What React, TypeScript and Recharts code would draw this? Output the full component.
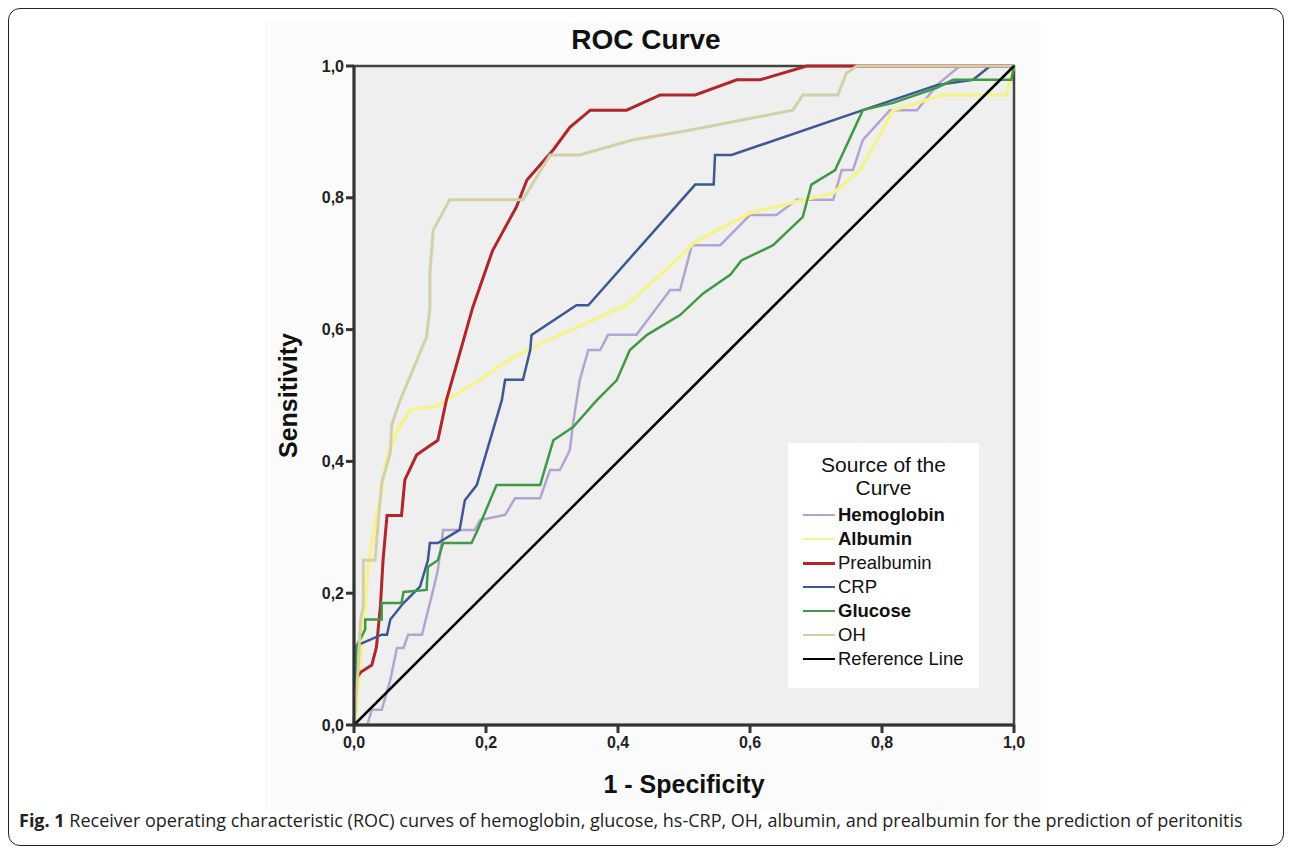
import React from "react";
import {
	LineChart,
	Line,
	XAxis,
	YAxis,
	CartesianGrid,
	ReferenceArea,
	Label,
} from "recharts";

// ROC points (1 - specificity / sensitivity)
const hemoglobinFpr = [0, 0.02, 0.027, 0.042, 0.055, 0.065, 0.075, 0.082, 0.103, 0.12, 0.127, 0.135, 0.183, 0.191, 0.229, 0.244, 0.282, 0.297, 0.312, 0.327, 0.332, 0.342, 0.355, 0.373, 0.385, 0.428, 0.479, 0.494, 0.512, 0.555, 0.6, 0.64, 0.671, 0.726, 0.739, 0.756, 0.771, 0.812, 0.853, 0.883, 0.918, 1];
const hemoglobinTpr = [0, 0, 0.023, 0.023, 0.068, 0.117, 0.117, 0.137, 0.137, 0.205, 0.235, 0.296, 0.296, 0.311, 0.319, 0.344, 0.344, 0.387, 0.387, 0.417, 0.458, 0.523, 0.569, 0.569, 0.592, 0.592, 0.66, 0.66, 0.728, 0.728, 0.774, 0.774, 0.797, 0.797, 0.842, 0.842, 0.888, 0.933, 0.933, 0.971, 1, 1];

const albuminFpr = [0, 0.004, 0.01, 0.016, 0.021, 0.029, 0.042, 0.05, 0.065, 0.085, 0.097, 0.125, 0.14, 0.19, 0.226, 0.272, 0.413, 0.494, 0.514, 0.6, 0.665, 0.726, 0.767, 0.817, 0.892, 0.989, 0.994, 1];
const albuminTpr = [0, 0.03, 0.1, 0.17, 0.235, 0.29, 0.357, 0.407, 0.445, 0.478, 0.481, 0.483, 0.493, 0.523, 0.549, 0.574, 0.637, 0.71, 0.731, 0.777, 0.793, 0.807, 0.842, 0.933, 0.956, 0.956, 0.979, 1];

const prealbuminFpr = [0, 0.003, 0.01, 0.027, 0.034, 0.04, 0.044, 0.05, 0.072, 0.077, 0.095, 0.127, 0.14, 0.156, 0.18, 0.21, 0.246, 0.262, 0.302, 0.327, 0.358, 0.413, 0.464, 0.517, 0.58, 0.615, 0.686, 1];
const prealbuminTpr = [0, 0.07, 0.08, 0.091, 0.118, 0.18, 0.25, 0.318, 0.318, 0.372, 0.41, 0.432, 0.493, 0.549, 0.634, 0.72, 0.786, 0.827, 0.873, 0.907, 0.933, 0.933, 0.956, 0.956, 0.979, 0.979, 1, 1];

const crpFpr = [0, 0.003, 0.042, 0.05, 0.055, 0.075, 0.1, 0.112, 0.115, 0.127, 0.16, 0.168, 0.186, 0.224, 0.229, 0.256, 0.267, 0.269, 0.337, 0.355, 0.517, 0.545, 0.547, 0.572, 0.771, 0.883, 0.938, 0.964, 1];
const crpTpr = [0, 0.12, 0.137, 0.137, 0.16, 0.185, 0.21, 0.25, 0.276, 0.276, 0.296, 0.341, 0.364, 0.493, 0.524, 0.524, 0.569, 0.592, 0.637, 0.637, 0.82, 0.82, 0.865, 0.865, 0.933, 0.971, 0.979, 1, 1];

const glucoseFpr = [0, 0.004, 0.017, 0.017, 0.042, 0.042, 0.072, 0.075, 0.11, 0.112, 0.127, 0.135, 0.178, 0.186, 0.216, 0.282, 0.302, 0.332, 0.368, 0.398, 0.418, 0.444, 0.494, 0.529, 0.57, 0.587, 0.635, 0.68, 0.693, 0.729, 0.771, 0.817, 0.883, 0.908, 0.996, 1];
const glucoseTpr = [0, 0.12, 0.145, 0.16, 0.16, 0.185, 0.185, 0.202, 0.205, 0.24, 0.25, 0.276, 0.276, 0.293, 0.364, 0.364, 0.432, 0.452, 0.493, 0.523, 0.569, 0.592, 0.622, 0.655, 0.683, 0.705, 0.728, 0.771, 0.82, 0.842, 0.933, 0.944, 0.967, 0.979, 0.979, 1];

const ohFpr = [0, 0.006, 0.01, 0.014, 0.014, 0.032, 0.036, 0.042, 0.055, 0.057, 0.07, 0.11, 0.115, 0.115, 0.12, 0.145, 0.256, 0.297, 0.342, 0.423, 0.494, 0.665, 0.68, 0.733, 0.746, 0.762, 1];
const ohTpr = [0, 0.08, 0.16, 0.18, 0.25, 0.25, 0.3, 0.367, 0.413, 0.455, 0.493, 0.589, 0.634, 0.686, 0.751, 0.797, 0.797, 0.865, 0.865, 0.888, 0.9, 0.933, 0.956, 0.956, 0.989, 1, 1];

const referenceFpr = [0, 1];
const referenceTpr = [0, 1];

const ticks = [0, 0.2, 0.4, 0.6, 0.8, 1];

const toPoints = (xs: number[], ys: number[]) =>
	xs.map((x, i) => ({ x, y: ys[i] }));

const series = [
	{ name: "Hemoglobin", color: "#b4a3d0", width: 2.5, data: toPoints(hemoglobinFpr, hemoglobinTpr), bold: true },
	{ name: "Albumin", color: "#f6f290", width: 3.5, data: toPoints(albuminFpr, albuminTpr), bold: true },
	{ name: "Prealbumin", color: "#b0262a", width: 3, data: toPoints(prealbuminFpr, prealbuminTpr), bold: false },
	{ name: "CRP", color: "#3d5894", width: 2.5, data: toPoints(crpFpr, crpTpr), bold: false },
	{ name: "Glucose", color: "#3f9a46", width: 2.5, data: toPoints(glucoseFpr, glucoseTpr), bold: true },
	{ name: "OH", color: "#d3d0a8", width: 3, data: toPoints(ohFpr, ohTpr), bold: false },
	{ name: "Reference Line", color: "#000000", width: 2.5, data: toPoints(referenceFpr, referenceTpr), bold: false },
];

const font = "'Liberation Sans', Arial, sans-serif";
const fmt = (v: number) => v.toFixed(1).replace(".", ",");

const App: React.FC = () => {
	return (
		<div
			style={{
				position: "relative",
				width: 1274,
				height: 836,
				border: "1px solid #222",
				borderRadius: 12,
				background: "#fff",
				fontFamily: font,
			}}
		>
			<div
				style={{
					position: "absolute",
					left: 256,
					top: 14,
					width: 776,
					height: 788,
					background: "#fbfbfb",
				}}
			/>
			<div
				style={{
					position: "absolute",
					left: 0,
					top: 17,
					width: 1274,
					textAlign: "center",
					fontSize: 28,
					lineHeight: "28px",
					fontWeight: "bold",
					color: "#111",
				}}
			>
				ROC Curve
			</div>
			<div style={{ position: "absolute", left: 0, top: 0 }}>
				<LineChart
					width={1100}
					height={790}
					margin={{ top: 57, right: 95, bottom: 44, left: 285 }}
				>
					<CartesianGrid
						horizontal={false}
						vertical={false}
						fill="#efefef"
					/>
					<ReferenceArea
						x1={0}
						x2={1}
						y1={0}
						y2={1}
						fill="none"
						stroke="#444"
						strokeWidth={2.5}
						ifOverflow="visible"
					/>
					<XAxis
						type="number"
						dataKey="x"
						domain={[0, 1]}
						ticks={ticks}
						tickFormatter={fmt}
						height={30}
						tickSize={8}
						tickMargin={4}
						stroke="#333"
						strokeWidth={3}
						tick={{ fontSize: 16, fontWeight: "bold", fill: "#222", fontFamily: font }}
						allowDuplicatedCategory={false}
					>
						<Label
							value="1 - Specificity"
							position="bottom"
							offset={20}
							style={{ fontSize: 25, fontWeight: "bold", fill: "#111", fontFamily: font }}
						/>
					</XAxis>
					<YAxis
						type="number"
						dataKey="y"
						domain={[0, 1]}
						ticks={ticks}
						tickFormatter={fmt}
						width={60}
						tickSize={8}
						stroke="#333"
						strokeWidth={3}
						tick={{ fontSize: 16, fontWeight: "bold", fill: "#222", fontFamily: font }}
					>
						<Label
							value="Sensitivity"
							position="left"
							angle={-90}
							offset={6}
							textAnchor="middle"
							style={{ fontSize: 25, fontWeight: "bold", fill: "#111", fontFamily: font }}
						/>
					</YAxis>
					{series.map((s) => (
						<Line
							key={s.name}
							data={s.data}
							dataKey="y"
							type="linear"
							stroke={s.color}
							strokeWidth={s.width}
							dot={false}
							activeDot={false}
							isAnimationActive={false}
						/>
					))}
				</LineChart>
			</div>
			<div
				style={{
					position: "absolute",
					left: 779,
					top: 434,
					width: 191,
					height: 245,
					background: "#fff",
					color: "#111",
				}}
			>
				<div
					style={{
						textAlign: "center",
						fontSize: 21,
						lineHeight: "23px",
						marginTop: 10,
						marginBottom: 4,
					}}
				>
					Source of the
					<br />
					Curve
				</div>
				{series.map((s) => (
					<div
						key={s.name}
						style={{
							display: "flex",
							alignItems: "center",
							height: 24,
							fontSize: 18.5,
							fontWeight: s.bold ? "bold" : "normal",
						}}
					>
						<span
							style={{
								display: "inline-block",
								marginLeft: 15,
								marginRight: 3,
								width: 32,
								height: s.name === "Prealbumin" ? 3 : 2,
								background: s.color,
							}}
						/>
						{s.name}
					</div>
				))}
			</div>
			<div
				style={{
					position: "absolute",
					left: 10,
					top: 800,
					fontSize: 18,
					lineHeight: "22px",
					color: "#222",
					fontFamily: "'Open Sans', 'Noto Sans', sans-serif",
					whiteSpace: "nowrap",
				}}
			>
				<b>Fig. 1</b> Receiver operating characteristic (ROC) curves of hemoglobin, glucose, hs-CRP, OH, albumin, and prealbumin for the prediction of peritonitis
			</div>
		</div>
	);
};

export default App;
